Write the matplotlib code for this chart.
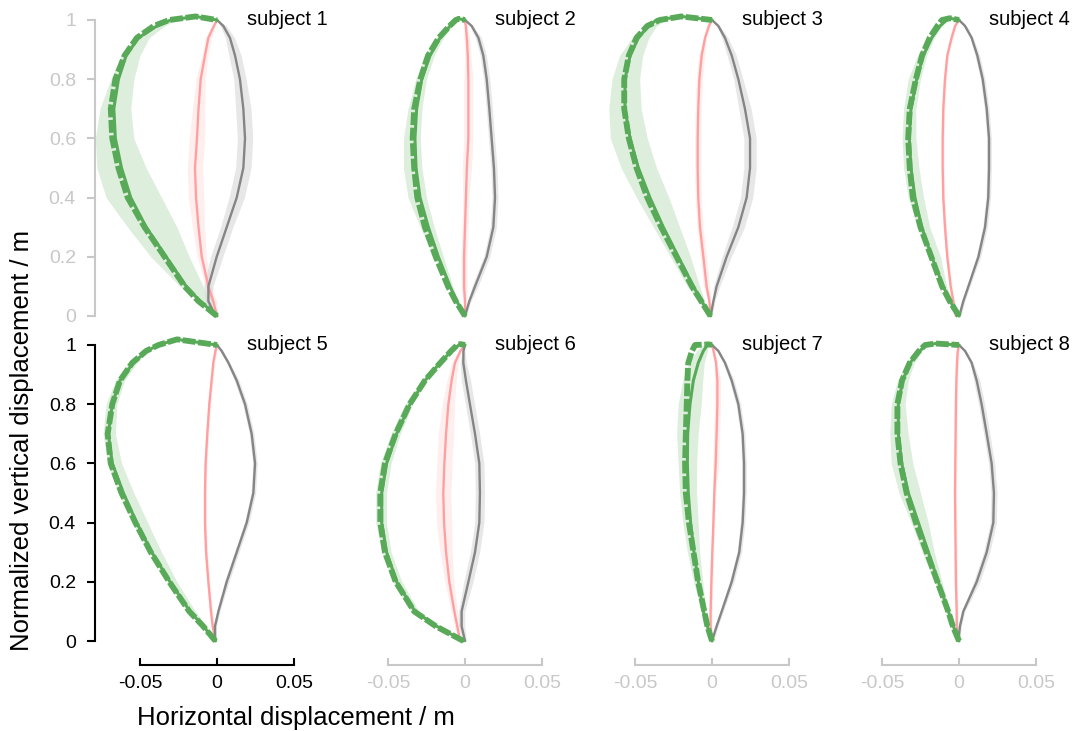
import numpy as np
import matplotlib
matplotlib.use("Agg")
from matplotlib import pyplot as plt

plt.rcParams['font.family'] = ['Liberation Sans', 'DejaVu Sans']

# vertical levels (normalized) shared by all curves
levels = [0, 0.05, 0.1, 0.2, 0.3, 0.4, 0.5, 0.6, 0.7, 0.8, 0.88, 0.94, 0.98, 1.0]
subjects = ['subject 1', 'subject 2', 'subject 3', 'subject 4',
            'subject 5', 'subject 6', 'subject 7', 'subject 8']

# green: measured mean, model (dashed), and band limits
green_mean = [
    [0, -0.011, -0.020, -0.033, -0.046, -0.056, -0.062, -0.066, -0.067, -0.064, -0.059, -0.051, -0.039, -0.030],
    [0, -0.0054, -0.0097, -0.0173, -0.0238, -0.0292, -0.0318, -0.0325, -0.0314, -0.0281, -0.0227, -0.0162, -0.0097, -0.006],
    [-0.001, -0.0067, -0.0121, -0.0219, -0.0316, -0.0403, -0.0478, -0.0532, -0.0565, -0.0565, -0.0532, -0.0478, -0.0413, -0.036],
    [0, -0.0058, -0.0102, -0.0177, -0.0242, -0.0286, -0.0312, -0.0323, -0.0312, -0.0275, -0.0232, -0.0177, -0.0123, -0.008],
    [-0.001, -0.0089, -0.0175, -0.0305, -0.0424, -0.0522, -0.0608, -0.068, -0.0706, -0.068, -0.063, -0.0543, -0.0457, -0.038],
    [-0.001, -0.0184, -0.0325, -0.0444, -0.0509, -0.0541, -0.0541, -0.0509, -0.0444, -0.0357, -0.026, -0.0162, -0.0087, -0.004],
    [0, -0.003, -0.0056, -0.0089, -0.0117, -0.0139, -0.0154, -0.016, -0.0158, -0.0143, -0.0121, -0.0089, -0.0056, -0.003],
    [0, -0.0037, -0.0069, -0.0134, -0.0199, -0.0264, -0.0329, -0.0372, -0.0394, -0.0394, -0.0366, -0.0318, -0.0253, -0.022],
]
green_model = [
    [0, -0.012, -0.021, -0.034, -0.047, -0.058, -0.064, -0.068, -0.069, -0.066, -0.060, -0.052, -0.041, -0.031],
    [0, -0.006, -0.011, -0.019, -0.026, -0.031, -0.033, -0.034, -0.033, -0.029, -0.024, -0.017, -0.010, -0.006],
    [-0.001, -0.007, -0.013, -0.023, -0.033, -0.042, -0.049, -0.054, -0.057, -0.057, -0.054, -0.049, -0.042, -0.034],
    [0, -0.006, -0.011, -0.018, -0.025, -0.030, -0.032, -0.033, -0.032, -0.028, -0.024, -0.019, -0.014, -0.011],
    [-0.001, -0.009, -0.018, -0.031, -0.043, -0.053, -0.062, -0.069, -0.071, -0.068, -0.063, -0.055, -0.046, -0.038],
    [-0.001, -0.019, -0.033, -0.045, -0.052, -0.055, -0.055, -0.052, -0.045, -0.036, -0.026, -0.016, -0.009, -0.005],
    [0, -0.003, -0.005, -0.009, -0.012, -0.015, -0.017, -0.0175, -0.017, -0.0164, -0.016, -0.0154, -0.013, -0.011],
    [0, -0.004, -0.007, -0.014, -0.021, -0.028, -0.034, -0.038, -0.040, -0.040, -0.037, -0.032, -0.026, -0.022],
]
green_lo = [
    [0, -0.012, -0.024, -0.043, -0.058, -0.072, -0.078, -0.079, -0.076, -0.069, -0.062, -0.054, -0.042, -0.032],
    [0, -0.006, -0.011, -0.020, -0.029, -0.037, -0.040, -0.040, -0.037, -0.032, -0.026, -0.019, -0.011, -0.007],
    [-0.001, -0.009, -0.016, -0.027, -0.038, -0.049, -0.059, -0.066, -0.067, -0.065, -0.060, -0.052, -0.043, -0.037],
    [0, -0.006, -0.011, -0.019, -0.027, -0.033, -0.036, -0.037, -0.036, -0.033, -0.027, -0.020, -0.013, -0.009],
    [-0.001, -0.010, -0.019, -0.032, -0.044, -0.055, -0.064, -0.071, -0.074, -0.072, -0.066, -0.057, -0.047, -0.039],
    [-0.001, -0.020, -0.035, -0.047, -0.054, -0.058, -0.058, -0.055, -0.048, -0.039, -0.028, -0.018, -0.010, -0.005],
    [0, -0.004, -0.007, -0.012, -0.016, -0.019, -0.021, -0.022, -0.023, -0.022, -0.019, -0.015, -0.010, -0.006],
    [0, -0.004, -0.008, -0.016, -0.024, -0.031, -0.039, -0.044, -0.045, -0.044, -0.040, -0.034, -0.027, -0.023],
]
green_hi = [
    [0, -0.005, -0.009, -0.018, -0.026, -0.036, -0.046, -0.054, -0.056, -0.054, -0.050, -0.044, -0.034, -0.026],
    [0, -0.004, -0.008, -0.014, -0.020, -0.025, -0.028, -0.029, -0.028, -0.025, -0.020, -0.014, -0.008, -0.005],
    [0, -0.005, -0.008, -0.014, -0.021, -0.028, -0.036, -0.042, -0.046, -0.047, -0.045, -0.041, -0.036, -0.030],
    [0, -0.004, -0.008, -0.012, -0.019, -0.023, -0.026, -0.028, -0.028, -0.025, -0.021, -0.016, -0.011, -0.007],
    [0, -0.007, -0.014, -0.026, -0.036, -0.045, -0.054, -0.062, -0.066, -0.065, -0.060, -0.052, -0.044, -0.036],
    [0, -0.017, -0.030, -0.041, -0.048, -0.051, -0.051, -0.048, -0.042, -0.034, -0.025, -0.015, -0.008, -0.003],
    [0, -0.002, -0.004, -0.006, -0.008, -0.009, -0.010, -0.010, -0.009, -0.007, -0.006, -0.005, -0.003, -0.002],
    [0, -0.003, -0.006, -0.011, -0.016, -0.020, -0.025, -0.030, -0.033, -0.035, -0.033, -0.029, -0.024, -0.020],
]
# top of the green loop before it returns to (0, 1)
green_peak_x = [-0.014, -0.004, -0.020, -0.006, -0.026, -0.003, -0.002, -0.015]
green_peak_y = [1.012, 1.004, 1.012, 1.006, 1.019, 1.003, 1.002, 1.005]

red_mean = [
    [0, -0.0024, -0.0056, -0.0099, -0.012, -0.0136, -0.0143, -0.013, -0.012, -0.0106, -0.0078, -0.0056, -0.002, 0],
    [0, 0, -0.0006, -0.0006, 0, 0.0006, 0.0012, 0.0022, 0.0022, 0.0022, 0.0018, 0.0012, 0.0005, 0],
    [-0.0009, -0.0017, -0.0035, -0.0056, -0.0078, -0.0089, -0.0093, -0.0093, -0.0089, -0.0082, -0.0067, -0.0045, -0.002, 0],
    [-0.002, -0.0037, -0.0054, -0.0076, -0.0091, -0.0102, -0.0106, -0.0106, -0.0102, -0.0091, -0.0076, -0.0048, -0.0025, 0],
    [-0.001, -0.0028, -0.0039, -0.0056, -0.0071, -0.0078, -0.0078, -0.0074, -0.0063, -0.005, -0.0035, -0.0024, -0.001, 0],
    [-0.0032, -0.005, -0.0069, -0.0102, -0.0123, -0.0136, -0.0141, -0.0134, -0.0123, -0.0108, -0.0087, -0.0065, -0.003, 0],
    [-0.0002, -0.0009, -0.0009, -0.0004, 0.0002, 0.0009, 0.0015, 0.0024, 0.003, 0.0035, 0.0035, 0.0026, 0.001, 0],
    [-0.001, -0.0015, -0.0015, -0.002, -0.0022, -0.0024, -0.0026, -0.0024, -0.0022, -0.002, -0.0017, -0.0013, -0.0008, 0],
]
red_sd = [
    [0.001, 0.002, 0.002, 0.003, 0.004, 0.005, 0.005, 0.005, 0.004, 0.003, 0.002, 0.002, 0.001, 0],
    [0.001, 0.001, 0.002, 0.002, 0.002, 0.002, 0.003, 0.003, 0.003, 0.003, 0.002, 0.002, 0.001, 0],
    [0.001, 0.001, 0.002, 0.002, 0.002, 0.002, 0.002, 0.002, 0.002, 0.002, 0.002, 0.001, 0.001, 0],
    [0.001, 0.001, 0.001, 0.001, 0.001, 0.001, 0.001, 0.001, 0.001, 0.001, 0.001, 0.001, 0.001, 0],
    [0.001, 0.001, 0.001, 0.001, 0.001, 0.001, 0.001, 0.001, 0.001, 0.001, 0.001, 0.001, 0.001, 0],
    [0.001, 0.002, 0.002, 0.003, 0.004, 0.005, 0.005, 0.005, 0.005, 0.004, 0.003, 0.002, 0.001, 0],
    [0.001, 0.001, 0.001, 0.001, 0.001, 0.001, 0.001, 0.002, 0.002, 0.002, 0.002, 0.001, 0.001, 0],
    [0.001, 0.001, 0.001, 0.001, 0.001, 0.001, 0.001, 0.001, 0.001, 0.001, 0.001, 0.001, 0.001, 0],
]

gray_mean = [
    [-0.001, -0.0056, -0.0056, -0.0002, 0.0063, 0.0128, 0.0171, 0.0182, 0.0171, 0.0149, 0.0117, 0.0084, 0.0041, 0],
    [0, 0.0028, 0.0065, 0.0141, 0.0184, 0.0195, 0.0188, 0.0173, 0.0158, 0.0141, 0.0119, 0.0087, 0.0043, 0],
    [-0.0009, 0.0009, 0.003, 0.0095, 0.0171, 0.0225, 0.0247, 0.0247, 0.0214, 0.0171, 0.0128, 0.0084, 0.0041, 0],
    [0.0002, 0.0028, 0.0061, 0.0126, 0.0169, 0.019, 0.0195, 0.0195, 0.018, 0.0154, 0.0119, 0.0082, 0.0039, 0],
    [-0.0013, -0.0013, 0.0009, 0.0063, 0.0128, 0.0193, 0.0236, 0.0247, 0.0225, 0.0182, 0.0128, 0.0074, 0.003, 0],
    [0, -0.0022, -0.0022, 0.0022, 0.0065, 0.0093, 0.0097, 0.0093, 0.0065, 0.0032, 0.0006, -0.0011, -0.001, 0],
    [0, 0.003, 0.0063, 0.0128, 0.0177, 0.0199, 0.0208, 0.0208, 0.0199, 0.0171, 0.0128, 0.0084, 0.0041, 0],
    [-0.0004, 0.0006, 0.0028, 0.0115, 0.018, 0.0223, 0.0227, 0.0212, 0.018, 0.0147, 0.0115, 0.0082, 0.0039, 0],
]
gray_sd = [
    [0.001, 0.002, 0.003, 0.004, 0.004, 0.005, 0.005, 0.005, 0.005, 0.004, 0.004, 0.003, 0.002, 0],
    [0.001, 0.001, 0.002, 0.002, 0.002, 0.002, 0.002, 0.002, 0.002, 0.002, 0.002, 0.002, 0.001, 0],
    [0.001, 0.001, 0.002, 0.003, 0.004, 0.004, 0.004, 0.004, 0.004, 0.003, 0.003, 0.002, 0.001, 0],
    [0.001, 0.001, 0.001, 0.0015, 0.0015, 0.0015, 0.0015, 0.0015, 0.0015, 0.0015, 0.0015, 0.001, 0.001, 0],
    [0.001, 0.001, 0.001, 0.0015, 0.0015, 0.0015, 0.0015, 0.0015, 0.0015, 0.0015, 0.0015, 0.001, 0.001, 0],
    [0.001, 0.002, 0.002, 0.003, 0.003, 0.003, 0.003, 0.003, 0.003, 0.003, 0.003, 0.002, 0.001, 0],
    [0.001, 0.001, 0.001, 0.0015, 0.0015, 0.0015, 0.0015, 0.0015, 0.0015, 0.0015, 0.0015, 0.001, 0.001, 0],
    [0.001, 0.001, 0.001, 0.002, 0.002, 0.002, 0.002, 0.002, 0.002, 0.002, 0.002, 0.001, 0.001, 0],
]

GREEN = '#58aa58'
RED = '#ffa0a0'
GRAY = '#858585'
LIGHT = '#c8c8c8'

W, H = 1086, 731
fig = plt.figure(figsize=(W / 100, H / 100), dpi=100)

# pixel layout: x zero of each column, y=0 / y=1 of each row
col_zero = [217, 465, 712, 959]
row_y0 = [316, 641]
row_y1 = [20, 345]
px_per_m = 1540
xlim = (-0.079, 0.06)
ylim = (-0.02, 1.03)

y = np.array(levels)
for i, name in enumerate(subjects):
    r, c = divmod(i, 4)
    ppu = row_y0[r] - row_y1[r]
    left = col_zero[c] + xlim[0] * px_per_m
    width = (xlim[1] - xlim[0]) * px_per_m
    bottom = row_y0[r] - ylim[0] * ppu
    top = row_y0[r] - ylim[1] * ppu
    ax = fig.add_axes([left / W, 1 - bottom / H, width / W, (bottom - top) / H])
    ax.set_xlim(*xlim)
    ax.set_ylim(*ylim)
    ax.patch.set_alpha(0)

    gm = np.array(green_mean[i])
    gd = np.array(green_model[i])
    rm = np.array(red_mean[i])
    rs = np.array(red_sd[i])
    km = np.array(gray_mean[i])
    ks = np.array(gray_sd[i])

    ax.fill_betweenx(y, green_lo[i], green_hi[i], color=GREEN, alpha=0.2, lw=0)
    ax.fill_betweenx(y, rm - rs, rm + rs, color='#ffc8c8', alpha=0.3, lw=0)
    ax.fill_betweenx(y, km - ks, km + ks, color='#d4d4d4', alpha=0.55, lw=0)

    ax.plot(rm, y, color=RED, lw=1.7, solid_capstyle='round', solid_joinstyle='round')
    ax.plot(km, y, color=GRAY, lw=1.7, solid_capstyle='round', solid_joinstyle='round')

    gx = list(gm) + [green_peak_x[i], 0]
    gy = list(y) + [green_peak_y[i], 1.0]
    ax.plot(gx, gy, color=GREEN, lw=2.2, solid_capstyle='round', solid_joinstyle='round')
    dx = list(gd) + [green_peak_x[i], 0]
    ax.plot(dx, gy, color=GREEN, lw=4.2, dashes=(2.2, 0.45))

    ax.text(0.072, 0.982, name, ha='right', va='baseline', fontsize=14.5, clip_on=False)

    for s in ['top', 'right']:
        ax.spines[s].set_visible(False)

    # y axis only on the first column
    if c == 0:
        col = LIGHT if r == 0 else 'black'
        ax.spines['left'].set_bounds(0, 1)
        ax.spines['left'].set_color(col)
        ax.spines['left'].set_linewidth(1.5)
        ax.set_yticks([0, 0.2, 0.4, 0.6, 0.8, 1])
        ax.set_yticklabels(['0', '0.2', '0.4', '0.6', '0.8', '1'])
        ax.tick_params(axis='y', direction='out', length=6, width=1.5, color=col,
                       labelcolor=col, labelsize=14, pad=8)
    else:
        ax.spines['left'].set_visible(False)
        ax.set_yticks([])

    # x axis only on the bottom row
    if r == 1:
        col = 'black' if c == 0 else LIGHT
        ax.spines['bottom'].set_position(('outward', 13))
        ax.spines['bottom'].set_bounds(-0.05, 0.05)
        ax.spines['bottom'].set_color(col)
        ax.spines['bottom'].set_linewidth(1.5)
        ax.set_xticks([-0.05, 0, 0.05])
        ax.set_xticklabels(['-0.05', '0', '0.05'])
        ax.tick_params(axis='x', direction='in', length=5, width=1.5, color=col,
                       labelcolor=col, labelsize=14, pad=7)
    else:
        ax.spines['bottom'].set_visible(False)
        ax.set_xticks([])

fig.text(137 / W, 1 - 718 / H, 'Horizontal displacement / m', ha='left', va='center', fontsize=18.5)
fig.text(22 / W, 1 - 440 / H, 'Normalized vertical displacement / m', rotation=90,
         ha='center', va='center', fontsize=18.5)

fig.savefig('out.png', dpi=100)
